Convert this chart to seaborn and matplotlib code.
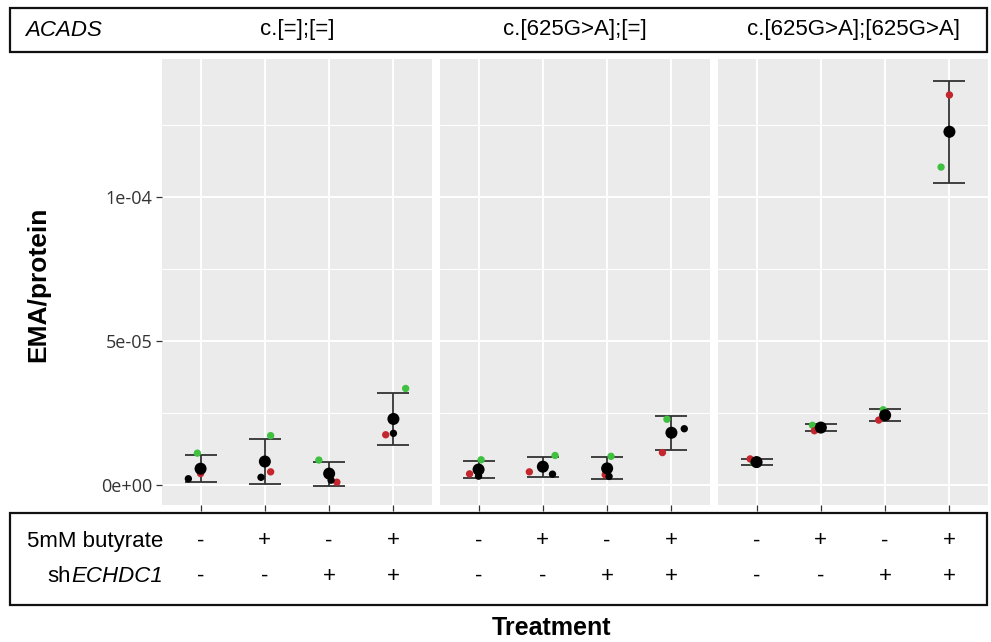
import numpy as np
import pandas as pd
import matplotlib
matplotlib.use("Agg")
import matplotlib.pyplot as plt
import matplotlib.transforms as mtransforms
from matplotlib.patches import Rectangle
from matplotlib.ticker import MultipleLocator, FuncFormatter
import seaborn as sns

# ============================================================
# DATA (values in units of 1e-5)
# ============================================================
GENOTYPES = ["c.[=];[=]", "c.[625G>A];[=]", "c.[625G>A];[625G>A]"]
BUTYRATE = ["-", "+", "-", "+"]
SH_ECHDC1 = ["-", "-", "+", "+"]
SCALE = 1e-5

# one row per genotype, one column per treatment
GREEN = [[1.09, 1.70, 0.85, 3.34],
         [0.86, 1.01, 0.98, 2.27],
         [0.77, 2.06, 2.60, 11.04]]
RED = [[0.38, 0.44, 0.08, 1.73],
       [0.37, 0.44, 0.34, 1.11],
       [0.89, 1.87, 2.24, 13.55]]
BLACK = [[0.20, 0.25, 0.15, 1.78],
         [0.29, 0.36, 0.28, 1.94],
         [0.71, 2.01, 2.40, 12.20]]
MEAN = [[0.55, 0.80, 0.38, 2.28],
        [0.52, 0.62, 0.56, 1.80],
        [0.78, 1.98, 2.41, 12.27]]
SD = [[0.47, 0.79, 0.42, 0.91],
      [0.29, 0.35, 0.38, 0.60],
      [0.10, 0.12, 0.21, 1.77]]

# horizontal jitter of the replicate dots (category units)
GREEN_JIT = [[-0.05, 0.09, -0.16, 0.19],
             [0.04, 0.19, 0.06, -0.07],
             [-0.05, -0.13, -0.03, -0.13]]
RED_JIT = [[0.00, 0.09, 0.12, -0.12],
           [-0.14, -0.21, -0.03, -0.14],
           [-0.10, -0.10, -0.10, 0.00]]
BLACK_JIT = [[-0.19, -0.06, 0.03, 0.00],
             [0.00, 0.15, 0.03, 0.20],
             [0.00, 0.00, 0.00, 0.00]]

REP_COLORS = {"green": "#40C040", "red": "#C4262E", "black": "#000000"}

rows = []
for g, geno in enumerate(GENOTYPES):
    for rep, vals, jit in [("green", GREEN, GREEN_JIT), ("red", RED, RED_JIT),
                           ("black", BLACK, BLACK_JIT)]:
        for t in range(4):
            rows.append({"genotype": geno, "treat": t, "x": t + jit[g][t],
                         "value": vals[g][t] * SCALE, "replicate": rep})
df = pd.DataFrame(rows)

summ = pd.DataFrame([{"genotype": geno, "treat": t, "mean": MEAN[g][t] * SCALE,
                      "sd": SD[g][t] * SCALE}
                     for g, geno in enumerate(GENOTYPES) for t in range(4)])

# ============================================================
# FIGURE
# ============================================================
sns.set_theme(style="darkgrid")
plt.rcParams["font.family"] = ["Liberation Sans", "DejaVu Sans"]
plt.rcParams["text.color"] = "black"

W, H = 991, 642
fig = plt.figure(figsize=(W / 100, H / 100), dpi=100)
fig.patch.set_facecolor("white")


def px_box(x0, y0, x1, y1):
    return [x0 / W, 1 - y1 / H, (x1 - x0) / W, (y1 - y0) / H]


def fy(ypx):
    return 1 - ypx / H


PANEL_X = [(162, 432), (440, 710), (718, 988)]
PANEL_Y = (59, 505)
axes = []
for g, geno in enumerate(GENOTYPES):
    x0, x1 = PANEL_X[g]
    ax = fig.add_axes(px_box(x0, PANEL_Y[0], x1, PANEL_Y[1]))
    axes.append(ax)
    ax.set_facecolor("#EBEBEB")
    for sp in ax.spines.values():
        sp.set_visible(False)
    ax.set_xlim(-0.6, 3.6)
    ax.set_ylim(-0.713e-5, 14.8e-5)
    ax.set_xticks(range(4))
    ax.set_xticklabels([])
    ax.yaxis.set_major_locator(MultipleLocator(5e-5))
    ax.yaxis.set_minor_locator(MultipleLocator(2.5e-5))
    ax.grid(which="major", color="white", linewidth=1.4)
    ax.grid(which="minor", axis="y", color="white", linewidth=0.8)
    ax.set_axisbelow(True)
    ax.tick_params(which="major", length=4, width=0.9, color="#333333",
                   bottom=True, left=(g == 0), pad=3)
    ax.tick_params(which="minor", length=0)
    if g == 0:
        ax.yaxis.set_major_formatter(FuncFormatter(lambda v, p: f"{v:.0e}"))
        for lab in ax.get_yticklabels():
            lab.set_fontfamily("Open Sans")
        ax.tick_params(axis="y", labelsize=13, labelcolor="#333333")
    else:
        ax.set_yticklabels([])

    s = summ[summ["genotype"] == geno]
    ax.errorbar(s["treat"], s["mean"], yerr=s["sd"], fmt="none",
                ecolor="#333333", elinewidth=1.3, capsize=11.5, capthick=1.3,
                zorder=2)
    d = df[df["genotype"] == geno]
    sns.scatterplot(data=d, x="x", y="value", hue="replicate",
                    palette=REP_COLORS, s=28, edgecolor="none", legend=False,
                    ax=ax, zorder=3)
    sns.scatterplot(data=s, x="treat", y="mean", color="black", s=75,
                    edgecolor="none", legend=False, ax=ax, zorder=4)
    ax.set_xlabel("")
    ax.set_ylabel("")

# ============================================================
# HEADER / TREATMENT BOXES
# ============================================================
fig.add_artist(Rectangle((10 / W, fy(52)), 977 / W, 44 / H, fill=False,
                         edgecolor="#111111", linewidth=1.6,
                         transform=fig.transFigure))
fig.add_artist(Rectangle((10 / W, fy(605)), 977 / W, 92 / H, fill=False,
                         edgecolor="#111111", linewidth=1.6,
                         transform=fig.transFigure))

FS = 16
fig.text(25 / W, fy(30), "ACADS", style="italic", fontsize=FS,
         ha="left", va="center")
for g, geno in enumerate(GENOTYPES):
    x0, x1 = PANEL_X[g]
    fig.text((x0 + x1) / 2 / W, fy(30), geno, fontsize=FS,
             ha="center", va="center")

fig.text(163 / W, fy(541), "5mM butyrate", fontsize=FS, ha="right", va="center")
ital = fig.text(163 / W, fy(576), "ECHDC1", fontsize=FS, style="italic",
                ha="right", va="center")
renderer = fig.canvas.get_renderer()
bb = ital.get_window_extent(renderer=renderer)
fig.text(bb.x0 / fig.bbox.width, fy(576), "sh", fontsize=FS,
         ha="right", va="center")

for ax in axes:
    tr = mtransforms.blended_transform_factory(ax.transData, fig.transFigure)
    for t in range(4):
        ax.text(t, fy(541), BUTYRATE[t], fontsize=FS, ha="center",
                va="center", transform=tr)
        ax.text(t, fy(576), SH_ECHDC1[t], fontsize=FS, ha="center",
                va="center", transform=tr)

fig.text(38 / W, fy(284), "EMA/protein", rotation=90, fontsize=19,
         fontweight="bold", ha="center", va="center")
fig.text(551 / W, fy(628), "Treatment", fontsize=18, fontweight="bold",
         ha="center", va="center")

fig.savefig("out.png", dpi=100)
